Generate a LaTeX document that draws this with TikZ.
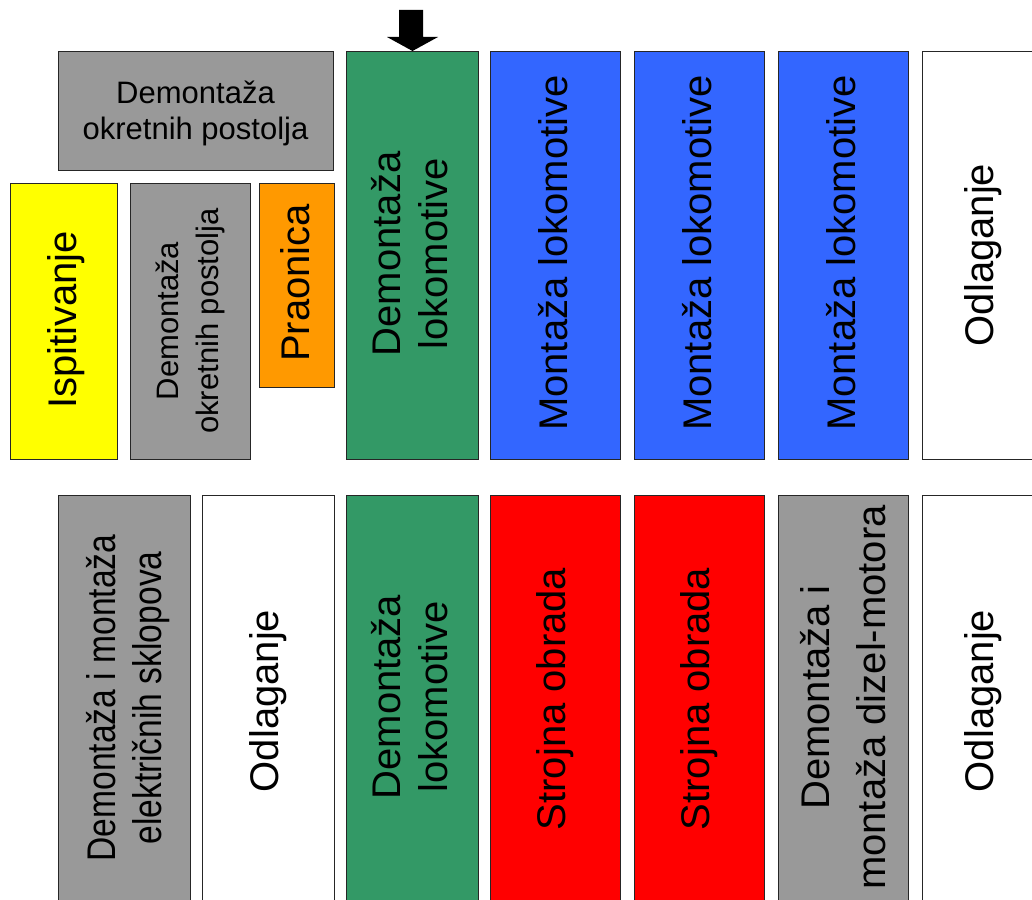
\documentclass[tikz,border=0pt]{standalone}
\usepackage{fontspec}
\setmainfont{Liberation Sans}
\definecolor{cgray}{HTML}{999999}
\definecolor{cyellow}{HTML}{FFFF00}
\definecolor{corange}{HTML}{FF9900}
\definecolor{cgreen}{HTML}{339966}
\definecolor{cblue}{HTML}{3366FF}
\definecolor{cred}{HTML}{FF0000}
\tikzset{
  boxst/.style={draw=black!85, line width=1pt, inner sep=0pt, anchor=north west},
  vtext/.style={rotate=90, inner sep=0pt, align=center, text=black, font=\fontsize{40}{47}\selectfont},
  htext/.style={inner sep=0pt, align=center, text=black, font=\fontsize{31}{36}\selectfont},
}
\begin{document}
\begin{tikzpicture}[x=1pt,y=1pt]
\useasboundingbox (0,0) rectangle (1032,-899);
\fill[white] (0,0) rectangle (1032,-899);
% top row
\node[boxst, fill=cgray, minimum width=275, minimum height=119] (A) at (58,-51) {};
\node[boxst, fill=cyellow, minimum width=107, minimum height=276] (B) at (10,-183) {};
\node[boxst, fill=cgray, minimum width=120, minimum height=276] (C) at (130,-183) {};
\node[boxst, fill=corange, minimum width=75, minimum height=204] (D) at (259,-183) {};
\node[boxst, fill=cgreen, minimum width=132, minimum height=408] (E) at (346,-51) {};
\node[boxst, fill=cblue, minimum width=130, minimum height=408] (F) at (490,-51) {};
\node[boxst, fill=cblue, minimum width=130, minimum height=408] (G) at (634,-51) {};
\node[boxst, fill=cblue, minimum width=130, minimum height=408] (H) at (778,-51) {};
\node[boxst, fill=white, minimum width=130, minimum height=408] (I) at (922,-51) {};
% bottom row
\node[boxst, fill=cgray, minimum width=132, minimum height=410] (J) at (58,-495) {};
\node[boxst, fill=white, minimum width=132, minimum height=410] (K) at (202,-495) {};
\node[boxst, fill=cgreen, minimum width=132, minimum height=410] (L) at (346,-495) {};
\node[boxst, fill=cred, minimum width=130, minimum height=410] (M) at (490,-495) {};
\node[boxst, fill=cred, minimum width=130, minimum height=410] (N) at (634,-495) {};
\node[boxst, fill=cgray, minimum width=130, minimum height=410] (O) at (778,-495) {};
\node[boxst, fill=white, minimum width=130, minimum height=410] (P) at (922,-495) {};
% texts top
\node[htext] (tA) at (195.5,-113) {Demontaža\\okretnih postolja};
\node[vtext] (tB) at (66,-320) {Ispitivanje};
\node[vtext, font=\fontsize{31}{40}\selectfont] (tC) at (190,-321) {Demontaža\\okretnih postolja};
\node[vtext] (tD) at (295,-283) {Praonica};
\node[vtext] (tE) at (410,-254) {Demontaža\\lokomotive};
\node[vtext] (tF) at (553,-253) {Montaža lokomotive};
\node[vtext] (tG) at (697,-253) {Montaža lokomotive};
\node[vtext] (tH) at (841,-253) {Montaža lokomotive};
\node[vtext] (tI) at (983,-255) {Odlaganje};
% texts bottom
\node[vtext, xscale=0.84, font=\fontsize{40}{46}\selectfont] (tJ) at (128,-698) {Demontaža i montaža\\električnih sklopova};
\node[vtext] (tK) at (268,-701) {Odlaganje};
\node[vtext] (tL) at (410,-697) {Demontaža\\lokomotive};
\node[vtext] (tM) at (555,-699) {Strojna obrada};
\node[vtext] (tN) at (699,-699) {Strojna obrada};
\node[vtext, font=\fontsize{40}{56}\selectfont] (tO) at (843.5,-697.5) {Demontaža i\\montaža dizel-motora};
\node[vtext] (tP) at (983,-701) {Odlaganje};
% arrow
\fill[black] (399,-10) -- (423,-10) -- (423,-37) -- (438,-37) -- (E.north) -- (387,-37) -- (399,-37) -- cycle;
\end{tikzpicture}
\end{document}
